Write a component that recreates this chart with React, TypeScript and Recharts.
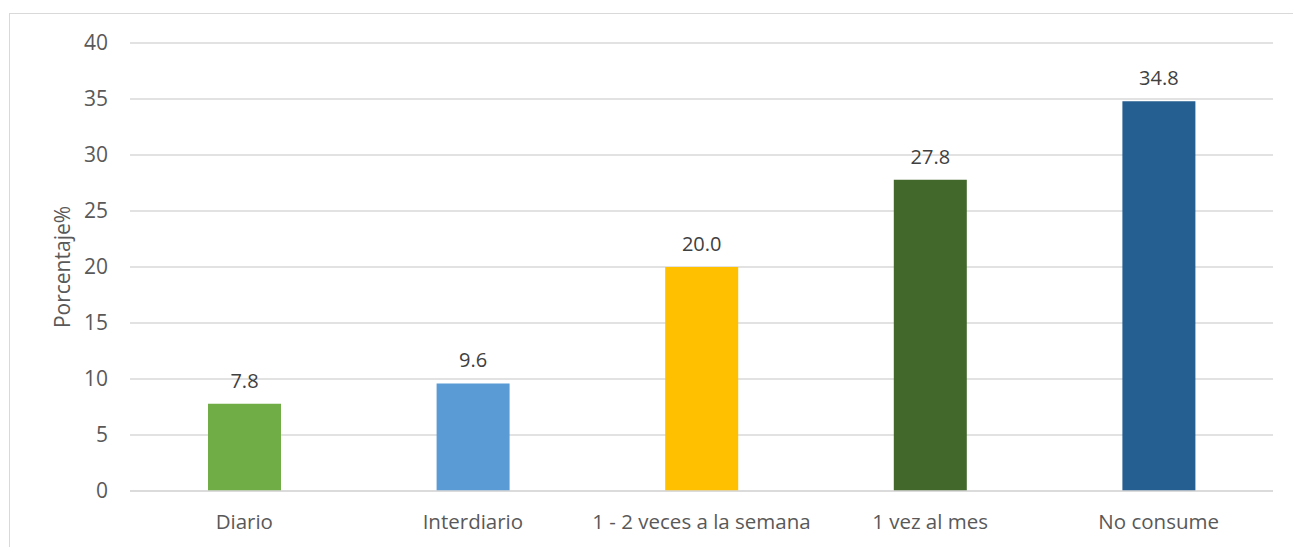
import React from "react";
import { BarChart, Bar, XAxis, YAxis, CartesianGrid, Cell, LabelList } from "recharts";

const categories = ["Diario", "Interdiario", "1 - 2 veces a la semana", "1 vez al mes", "No consume"];
const values = [7.8, 9.6, 20.0, 27.8, 34.8];
const colors = ["#70AD47", "#5B9BD5", "#FFC000", "#43682B", "#255E91"];
const yTicks = [0, 5, 10, 15, 20, 25, 30, 35, 40];

const data = categories.map((c, i) => ({ name: c, value: values[i] }));

const FONT = "'Open Sans', 'Noto Sans', sans-serif";

export default function App() {
  return (
    <div style={{ position: "absolute", left: 0, top: 0, width: 1293, height: 547, background: "#fff", overflow: "hidden", fontFamily: FONT }}>
      <div style={{ position: "absolute", left: 9, top: 13, width: 1300, height: 560, border: "1px solid #D9D9D9", boxSizing: "border-box" }} />
      <div style={{ position: "absolute", left: 0, top: 0 }}>
        <BarChart width={1293} height={547} data={data} margin={{ top: 43, right: 20, left: 0, bottom: 0 }}>
          <CartesianGrid vertical={false} stroke="#D9D9D9" strokeWidth={1.3} />
          <XAxis
            dataKey="name"
            height={56}
            axisLine={{ stroke: "#D9D9D9", strokeWidth: 1.3 }}
            tickLine={false}
            tickMargin={17}
            interval={0}
            tick={{ fill: "#595959", fontSize: 20.5, fontFamily: FONT }}
          />
          <YAxis
            width={130}
            domain={[0, 40]}
            ticks={yTicks}
            axisLine={false}
            tickLine={false}
            tickMargin={16}
            tick={{ fill: "#595959", fontSize: 21, fontFamily: FONT }}
            label={{ value: "Porcentaje%", angle: -90, position: "insideLeft", dx: 58, fill: "#595959", fontSize: 21, fontFamily: FONT, style: { textAnchor: "middle" } }}
          />
          <Bar dataKey="value" barSize={73} isAnimationActive={false}>
            {data.map((d, i) => (
              <Cell key={d.name} fill={colors[i]} />
            ))}
            <LabelList
              dataKey="value"
              position="top"
              offset={16}
              formatter={(v: number) => Number(v).toFixed(1)}
              style={{ fill: "#404040", fontSize: 20, fontFamily: FONT }}
            />
          </Bar>
        </BarChart>
      </div>
    </div>
  );
}
